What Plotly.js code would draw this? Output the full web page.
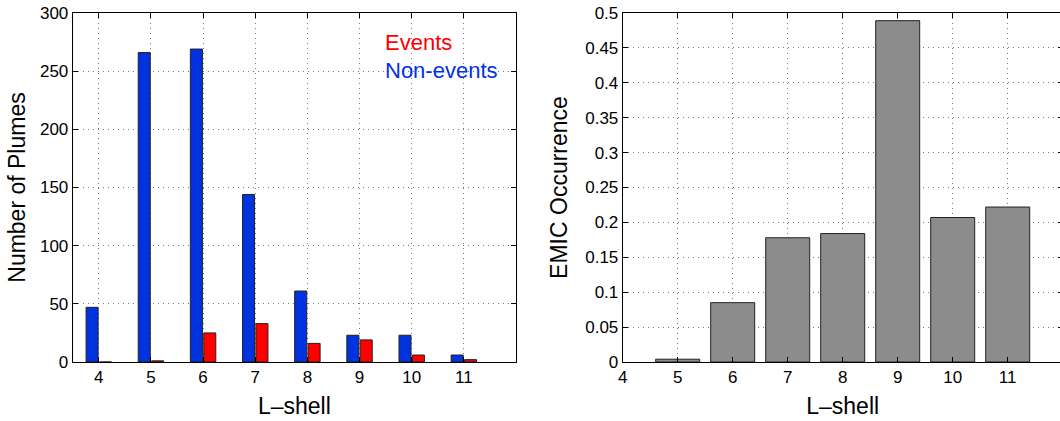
<!DOCTYPE html>
<html>
<head>
<meta charset="utf-8">
<script src="https://cdn.plot.ly/plotly-3.0.1.min.js"></script>
<style>
html, body { margin: 0; padding: 0; overflow: hidden; background: #fff; }
#chart { width: 1068px; height: 421px; }
</style>
</head>
<body>
<div id="chart"></div>
<script>
// Left panel: number of plumes per L-shell
const lShell = [4, 5, 6, 7, 8, 9, 10, 11];
const nonEvents = [47, 266, 269, 144, 61, 23, 23, 6];
const events = [0, 1, 25, 33, 16, 19, 6, 2];

// Right panel: EMIC occurrence per L-shell
const occShell = [5, 6, 7, 8, 9, 10, 11];
const occurrence = [0.004, 0.085, 0.178, 0.184, 0.489, 0.207, 0.222];

const leftTicks = [4, 5, 6, 7, 8, 9, 10, 11];
const rightTicks = [4, 5, 6, 7, 8, 9, 10, 11];

const FONT = 'Liberation Sans, Arial, Helvetica, sans-serif';
const W = 1068, H = 421;
const blue = '#0033e0';
const red = '#ff0000';
const gray = '#8c8c8c';
const outline = '#222222';

const traces = [
  { type: 'bar', x: lShell, y: nonEvents, name: 'Non-events', xaxis: 'x', yaxis: 'y',
    marker: { color: blue, line: { color: outline, width: 1 } }, showlegend: false },
  { type: 'bar', x: lShell, y: events, name: 'Events', xaxis: 'x', yaxis: 'y',
    marker: { color: red, line: { color: outline, width: 1 } }, showlegend: false },
  { type: 'bar', x: occShell, y: occurrence, name: 'EMIC Occurrence', xaxis: 'x2', yaxis: 'y2',
    marker: { color: gray, line: { color: outline, width: 1 } }, showlegend: false, width: 0.8 }
];

const axBase = {
  showline: true, linecolor: '#000', linewidth: 1, mirror: 'ticks',
  ticks: 'inside', ticklen: 5, tickcolor: '#000', tickwidth: 1,
  showgrid: true, gridcolor: '#777', gridwidth: 1, griddash: '1px,4px',
  zeroline: false, automargin: false,
  tickfont: { family: FONT, size: 17, color: '#000' }
};
const titleFont = { family: FONT, size: 23, color: '#000' };

const layout = {
  width: W, height: H,
  margin: { l: 0, r: 0, t: 13, b: 59 },
  paper_bgcolor: '#fff', plot_bgcolor: '#fff',
  barmode: 'group', bargap: 0.487, bargroupgap: 0.1,
  font: { family: FONT, color: '#000' },
  xaxis: Object.assign({}, axBase, {
    domain: [72.7 / W, 516 / W], range: [3.5, 12],
    tickmode: 'array', tickvals: leftTicks,
    title: { text: 'L–shell', font: titleFont, standoff: 11 }
  }),
  yaxis: Object.assign({}, axBase, {
    range: [0, 300], dtick: 50, tick0: 0,
    title: { text: 'Number of Plumes', font: titleFont, standoff: 7 }
  }),
  xaxis2: Object.assign({}, axBase, {
    domain: [622.7 / W, 1062.7 / W], range: [4, 12], anchor: 'y2',
    tickmode: 'array', tickvals: rightTicks,
    title: { text: 'L–shell', font: titleFont, standoff: 11 }
  }),
  yaxis2: Object.assign({}, axBase, {
    anchor: 'x2', range: [0, 0.5], dtick: 0.05, tick0: 0,
    title: { text: 'EMIC Occurrence', font: titleFont, standoff: 11 }
  }),
  annotations: [
    { xref: 'x', yref: 'y', x: 9.45, y: 275, text: 'Events', showarrow: false,
      xanchor: 'left', yanchor: 'middle', font: { family: FONT, size: 22, color: red } },
    { xref: 'x', yref: 'y', x: 9.45, y: 251, text: 'Non-events', showarrow: false,
      xanchor: 'left', yanchor: 'middle', font: { family: FONT, size: 22, color: blue } }
  ]
};

Plotly.newPlot('chart', traces, layout, { staticPlot: true, displayModeBar: false });
</script>
</body>
</html>
